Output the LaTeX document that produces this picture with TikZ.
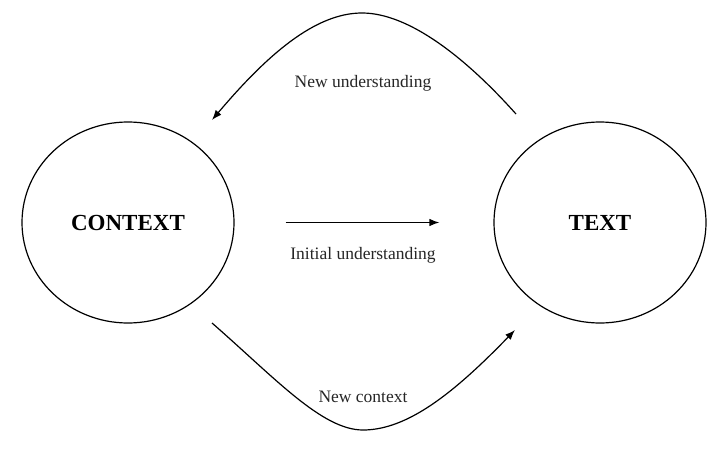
\documentclass[tikz,border=0pt]{standalone}
\usepackage{fontspec}
\setmainfont{Liberation Serif}
\usetikzlibrary{arrows.meta,shapes.geometric}
\tikzset{
  circ/.style={draw, ellipse, line width=1.2pt, minimum width=212pt, minimum height=201pt, inner sep=0pt, font=\fontsize{23}{26}\selectfont\bfseries},
  lbl/.style={font=\fontsize{17.5}{20}\selectfont, text=black!85},
  conn/.style={line width=1.2pt, -{Latex[length=10pt,width=7.5pt]}}
}
\begin{document}
\begin{tikzpicture}[x=1pt,y=-1pt]
\useasboundingbox (0,0) rectangle (720,452);
\node[circ] (ctx) at (128,222.5) {CONTEXT};
\node[circ] (txt) at (600,222.5) {TEXT};
\coordinate (ts) at (516,114);
\coordinate (tp) at (362,13);
\coordinate (te) at (212,120);
\coordinate (bs) at (212,323);
\coordinate (bp) at (363,430);
\coordinate (be) at (515,330);
\draw[conn] (ts) .. controls (466,58) and (409,13) .. (tp)
  .. controls (315,13) and (267,55) .. (te);
\draw[conn] (bs) .. controls (275,378) and (322,430) .. (bp)
  .. controls (408,430) and (455,392) .. (be);
\draw[conn, shorten <=51pt, shorten >=54pt] (ctx.east) -- (txt.west);
\node[lbl] (l1) at (363,83) {New understanding};
\node[lbl] (l2) at (363,255) {Initial understanding};
\node[lbl] (l3) at (363,397) {New context};
\end{tikzpicture}
\end{document}
